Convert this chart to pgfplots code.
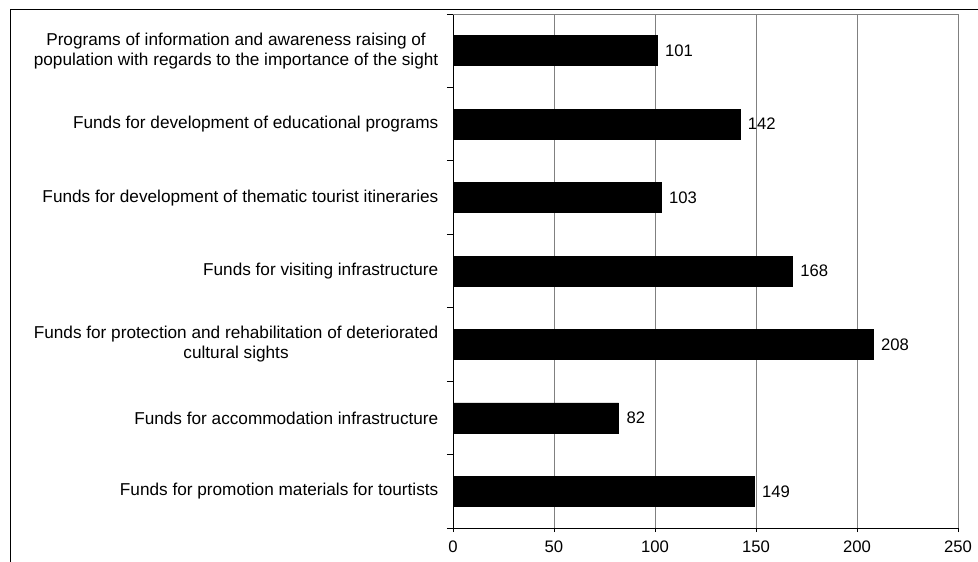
\documentclass[border=0pt]{standalone}
\usepackage{fontspec}
\setmainfont{Liberation Sans}
\usepackage{pgfplots}
\pgfplotsset{compat=1.18}
\definecolor{gridgray}{HTML}{808080}
\begin{document}
\begin{tikzpicture}
\path[use as bounding box] (0,0) rectangle (733.5pt,420.75pt);
\draw[black, line width=0.75pt] (7.5pt,-2pt) -- (7.5pt,413.25pt) -- (740pt,413.25pt);
\begin{axis}[
  at={(339.75pt,24.75pt)}, anchor=south west,
  scale only axis, width=378.75pt, height=385.5pt,
  xbar, bar width=22.5pt,
  xmin=0, xmax=250, ymin=-0.5, ymax=6.5,
  xtick={0,50,...,250},
  ytick={0,...,6},
  yticklabels={
    Funds for promotion materials for tourtists,
    Funds for accommodation infrastructure,
    {Funds for protection and rehabilitation of deteriorated\\cultural sights},
    Funds for visiting infrastructure,
    Funds for development of thematic tourist itineraries,
    Funds for development of educational programs,
    {Programs of information and awareness raising of\\population with regards to the importance of the sight}
  },
  yticklabel style={align=center, font=\fontsize{12.9}{15}\selectfont, xshift=-4.5pt},
  xticklabel style={font=\fontsize{12.5}{14}\selectfont, yshift=-3pt},
  /pgf/number format/assume math mode=true,
  tick align=outside,
  major tick length=3pt,
  ytick style={draw=none},
  extra y ticks={-0.5,0.5,...,6.5},
  extra y tick labels={},
  extra y tick style={ytick style={draw=black}, major tick length=4.5pt},
  xmajorgrids,
  grid style={gridgray, line width=0.75pt},
  axis x line*=bottom, axis y line*=left,
  axis line style={black, line width=0.75pt, -},
  tick style={black, line width=0.75pt},
  nodes near coords,
  nodes near coords align={horizontal},
  every node near coord/.append style={font=\fontsize{12.5}{14}\selectfont, black, xshift=2.5pt},
]
\addplot[fill=black, draw=black] coordinates {
  (149,0) (82,1) (208,2) (168,3) (103,4) (142,5) (101,6)
};
\draw[gridgray, line width=0.75pt] (rel axis cs:0,1) -- (rel axis cs:1,1) -- (rel axis cs:1,0);
\end{axis}
\end{tikzpicture}
\end{document}
